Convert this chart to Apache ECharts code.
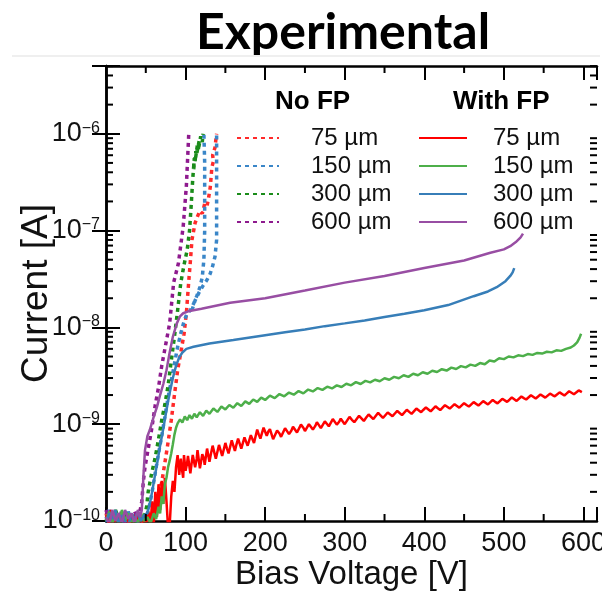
<!DOCTYPE html>
<html><head><meta charset="utf-8">
<script src="https://cdn.jsdelivr.net/npm/echarts@6/dist/echarts.min.js"></script>
<style>html,body{margin:0;padding:0;background:#fff}#c{width:602px;height:593px}</style>
</head><body><div id="c"></div>
<script>
// ---- labels ----
const titleText = 'Experimental';
const sizeLabels = ['75 µm', '150 µm', '300 µm', '600 µm'];
const groupHeaders = ['No FP', 'With FP'];
const xTickValues = [0, 100, 200, 300, 400, 500, 600];
const yTickExponents = [-10, -9, -8, -7, -6];

// ---- data: [bias voltage V, current A] ----
const noFP75 = [[0,1.2e-10],[4,0.95e-10],[8,1.1e-10],[12,0.9e-10],[16,1.2e-10],[20,1.0e-10],[24,1.15e-10],[28,0.92e-10],[32,1.1e-10],[36,1.0e-10],[40,1.2e-10],[44,0.95e-10],[48,1.1e-10],[52,1.0e-10],[56,1.2e-10],[60,1.0e-10],[63,1.4e-10],[66,1.8e-10],[70,2.5e-10],[74,4e-10],[78,6.5e-10],[82,1.1e-9],[86,2.0e-9],[90,3.6e-9],[94,5.5e-9],[98,8.5e-9],[101,1.4e-8],[104,3.0e-8],[106,4.8e-8],[108,8e-8],[112,1.2e-7],[115,1.4e-7],[118,1.6e-7],[121,1.5e-7],[124,1.9e-7],[127,1.8e-7],[129,2.2e-7],[131,2.8e-7],[132,3.5e-7],[133,4.5e-7],[135,5.2e-7],[134,6e-7],[137,7.2e-7],[138,8.6e-7],[139,1.0e-6]];
const noFP150 = [[0,1.05e-10],[4,1.3e-10],[8,1.0e-10],[12,0.9e-10],[16,1.2e-10],[20,1.05e-10],[24,0.92e-10],[28,1.25e-10],[32,1.0e-10],[36,1.15e-10],[40,0.95e-10],[44,1.2e-10],[48,1.05e-10],[52,1.2e-10],[55,1.5e-10],[58,2.0e-10],[62,3.2e-10],[66,5e-10],[70,7.5e-10],[74,1.2e-9],[78,1.9e-9],[82,2.8e-9],[86,4.2e-9],[90,6.3e-9],[94,8.7e-9],[98,1.15e-8],[102,1.4e-8],[106,1.5e-8],[110,1.75e-8],[114,2.1e-8],[118,2.6e-8],[121,3.3e-8],[123,5e-8],[124,1.0e-7],[124,2.5e-7],[124,5e-7],[123,1.0e-6]];
const noFP150b = [[108,1.5e-8],[112,1.9e-8],[117,2.3e-8],[122,2.7e-8],[127,3.1e-8],[131,3.6e-8],[134,4.3e-8],[137,5.4e-8],[139,8e-8],[139,1.5e-7],[139,3e-7],[139,6e-7],[139,1.0e-6]];
const noFP300 = [[0,1.0e-10],[4,1.2e-10],[8,0.95e-10],[12,1.3e-10],[16,1.05e-10],[20,0.9e-10],[24,1.25e-10],[28,1.0e-10],[32,1.15e-10],[36,0.95e-10],[40,1.2e-10],[44,1.0e-10],[48,1.1e-10],[51,1.4e-10],[53,2.0e-10],[57,3.0e-10],[62,4.6e-10],[66,7.0e-10],[70,1.1e-9],[74,1.6e-9],[78,2.5e-9],[82,4.5e-9],[86,8e-9],[90,1.5e-8],[94,2.9e-8],[98,4.4e-8],[102,6.3e-8],[105,1.0e-7],[107,1.8e-7],[109,3.4e-7],[111,5.6e-7],[110,4.2e-7],[113,6.6e-7],[112,5.2e-7],[115,7.8e-7],[114,6.2e-7],[117,8.4e-7],[116,6.8e-7],[119,9.4e-7],[121,8.2e-7],[122,1.0e-6]];
const noFP600 = [[0,1.3e-10],[4,1.0e-10],[8,0.9e-10],[12,1.15e-10],[16,1.0e-10],[20,1.3e-10],[24,0.95e-10],[28,1.2e-10],[32,1.0e-10],[36,1.25e-10],[40,1.05e-10],[43,1.3e-10],[45,1.6e-10],[47,2.6e-10],[49,3.6e-10],[52,5e-10],[57,8.5e-10],[62,1.6e-9],[66,2.4e-9],[70,4e-9],[74,6e-9],[80,1.1e-8],[85,2.9e-8],[91,4.6e-8],[97,1.1e-7],[101,2.9e-7],[104,1.0e-6]];

const withFP75 = [[0,1.15e-10],[3,0.95e-10],[6,1.3e-10],[9,0.9e-10],[13,1.1e-10],[17,0.92e-10],[21,1.2e-10],[25,0.95e-10],[29,1.05e-10],[33,0.9e-10],[37,1.15e-10],[41,0.95e-10],[45,1.1e-10],[49,0.9e-10],[53,1.25e-10],[56,0.95e-10],[58,1.6e-10],[60,0.9e-10],[62,2.0e-10],[64,1.1e-10],[66,2.4e-10],[68,1.3e-10],[70,2.6e-10],[72,1.5e-10],[74,2.8e-10],[76,1.6e-10],[78,0.85e-10],[80,0.9e-10],[82,1.8e-10],[84,2.6e-10],[86,2.0e-10],[88,3.6e-10],[90,4.8e-10],[92,3.0e-10],[94,4.4e-10],[95,3.6e-10],[97,2.8e-10],[98,4.8e-10],[100,3.3e-10],[102,4.0e-10],[103,4.7e-10],[106,3.1e-10],[108,4.2e-10],[109,4.8e-10],[112,3.6e-10],[114,4.4e-10],[115,5.4e-10],[118,3.5e-10],[121,4.9e-10],[123,4.4e-10],[124,3.8e-10],[127,5.6e-10],[130,4.1e-10],[132,5.0e-10],[134,6.0e-10],[138,4.4e-10],[140,5.2e-10],[142,6.1e-10],[146,4.7e-10],[150,6.4e-10],[152,5.6e-10],[154,5.0e-10],[158,6.8e-10],[162,5.3e-10],[164,6.2e-10],[166,7.1e-10],[170,5.6e-10],[174,7.3e-10],[176,6.6e-10],[178,6.0e-10],[182,7.7e-10],[186,6.4e-10],[190,8.8e-10],[192,7.8e-10],[194,7.1e-10],[198,9.2e-10],[202,7.6e-10],[204,8.4e-10],[206,8.9e-10],[210,7.0e-10],[215,8.6e-10],[218,8.0e-10],[220,7.4e-10],[225,9.1e-10],[230,7.9e-10],[233,8.6e-10],[235,9.4e-10],[240,8.2e-10],[245,9.9e-10],[248,9.2e-10],[250,8.5e-10],[255,1.0e-9],[260,8.8e-10],[263,9.6e-10],[265,1.05e-9],[270,9.1e-10],[275,1.07e-9],[278,1.0e-9],[280,9.5e-10],[285,1.13e-9],[290,9.9e-10],[293,1.06e-9],[295,1.14e-9],[300,1.0e-9],[306,1.19e-9],[309,1.11e-9],[312,1.05e-9],[318,1.22e-9],[324,1.08e-9],[327,1.17e-9],[330,1.26e-9],[336,1.13e-9],[342,1.31e-9],[345,1.23e-9],[348,1.16e-9],[354,1.32e-9],[360,1.21e-9],[363,1.29e-9],[366,1.37e-9],[372,1.24e-9],[378,1.41e-9],[381,1.34e-9],[384,1.28e-9],[390,1.45e-9],[396,1.33e-9],[399,1.41e-9],[402,1.49e-9],[408,1.36e-9],[414,1.53e-9],[417,1.46e-9],[420,1.4e-9],[426,1.57e-9],[432,1.45e-9],[435,1.53e-9],[438,1.61e-9],[444,1.48e-9],[450,1.65e-9],[453,1.58e-9],[456,1.52e-9],[462,1.69e-9],[468,1.56e-9],[471,1.64e-9],[474,1.73e-9],[480,1.6e-9],[486,1.78e-9],[489,1.7e-9],[492,1.64e-9],[498,1.83e-9],[504,1.7e-9],[507,1.79e-9],[510,1.89e-9],[516,1.74e-9],[522,1.93e-9],[525,1.86e-9],[528,1.8e-9],[534,1.99e-9],[540,1.84e-9],[543,1.93e-9],[546,2.03e-9],[552,1.88e-9],[558,2.07e-9],[561,2.0e-9],[564,1.94e-9],[570,2.13e-9],[576,1.98e-9],[579,2.08e-9],[582,2.19e-9],[588,2.04e-9],[594,2.23e-9],[598,2.14e-9]];
const withFP150 = [[0,1.0e-10],[4,1.25e-10],[8,0.95e-10],[12,1.15e-10],[16,0.9e-10],[20,1.3e-10],[24,1.0e-10],[28,1.2e-10],[32,0.92e-10],[36,1.1e-10],[40,0.95e-10],[44,1.2e-10],[48,1.0e-10],[52,1.1e-10],[56,0.95e-10],[60,1.2e-10],[63,1.05e-10],[66,1.4e-10],[68,1.2e-10],[70,1.8e-10],[72,1.5e-10],[74,2.4e-10],[76,2.8e-10],[78,3.6e-10],[80,4.2e-10],[82,5.0e-10],[84,6.2e-10],[86,7.8e-10],[88,9.2e-10],[90,1.02e-9],[93,1.12e-9],[96,1.04e-9],[99,1.2e-9],[102,1.1e-9],[105,1.24e-9],[108,1.14e-9],[111,1.28e-9],[114,1.18e-9],[118,1.33e-9],[122,1.22e-9],[126,1.38e-9],[130,1.28e-9],[135,1.45e-9],[140,1.34e-9],[145,1.52e-9],[150,1.42e-9],[155,1.58e-9],[160,1.48e-9],[165,1.65e-9],[170,1.54e-9],[175,1.72e-9],[180,1.62e-9],[185,1.8e-9],[190,1.7e-9],[195,1.88e-9],[200,1.78e-9],[206,1.97e-9],[212,1.86e-9],[218,2.05e-9],[224,1.94e-9],[230,2.12e-9],[236,2.02e-9],[242,2.2e-9],[248,2.08e-9],[254,2.28e-9],[260,2.18e-9],[266,2.36e-9],[272,2.26e-9],[278,2.44e-9],[284,2.34e-9],[290,2.52e-9],[296,2.42e-9],[302,2.62e-9],[308,2.52e-9],[314,2.72e-9],[320,2.6e-9],[326,2.8e-9],[332,2.7e-9],[338,2.88e-9],[344,2.78e-9],[350,2.98e-9],[356,2.88e-9],[362,3.08e-9],[368,2.98e-9],[374,3.2e-9],[380,3.08e-9],[386,3.32e-9],[392,3.2e-9],[398,3.44e-9],[404,3.32e-9],[410,3.57e-9],[416,3.46e-9],[422,3.7e-9],[428,3.58e-9],[434,3.84e-9],[440,3.72e-9],[446,3.98e-9],[452,3.86e-9],[458,4.12e-9],[464,4.0e-9],[470,4.28e-9],[476,4.16e-9],[482,4.55e-9],[488,4.45e-9],[494,4.8e-9],[500,4.7e-9],[506,5.0e-9],[512,4.9e-9],[518,5.15e-9],[524,5.05e-9],[530,5.3e-9],[536,5.2e-9],[542,5.45e-9],[548,5.36e-9],[554,5.6e-9],[560,5.52e-9],[566,5.8e-9],[572,5.72e-9],[578,6.0e-9],[584,6.2e-9],[588,6.5e-9],[592,7.0e-9],[595,7.8e-9],[597,8.6e-9]];
const withFP300 = [[0,0.95e-10],[4,1.2e-10],[8,1.05e-10],[12,1.3e-10],[16,0.95e-10],[20,1.15e-10],[24,1.0e-10],[28,0.9e-10],[32,1.2e-10],[36,1.05e-10],[40,1.25e-10],[44,1.0e-10],[48,1.15e-10],[52,1.2e-10],[55,1.5e-10],[58,2.0e-10],[61,2.8e-10],[64,3.8e-10],[68,6e-10],[72,9e-10],[76,1.4e-9],[80,2.1e-9],[84,3.0e-9],[88,4.0e-9],[92,4.9e-9],[96,5.5e-9],[101,6.0e-9],[110,6.3e-9],[130,6.8e-9],[160,7.4e-9],[200,8.3e-9],[225,8.9e-9],[250,9.5e-9],[275,1.03e-8],[300,1.1e-8],[325,1.18e-8],[350,1.28e-8],[375,1.38e-8],[400,1.5e-8],[430,1.7e-8],[462,2.1e-8],[480,2.35e-8],[491,2.6e-8],[502,3.0e-8],[508,3.4e-8],[511,3.7e-8],[513,4.1e-8]];
const withFP600 = [[0,1.1e-10],[4,0.92e-10],[8,1.3e-10],[12,1.0e-10],[16,1.2e-10],[20,0.95e-10],[24,1.3e-10],[28,1.05e-10],[32,1.2e-10],[36,0.95e-10],[40,1.3e-10],[43,1.1e-10],[45,1.3e-10],[47,2.9e-10],[49,5.4e-10],[52,7.5e-10],[55,8.7e-10],[60,1.2e-9],[64,1.5e-9],[68,2.0e-9],[72,2.6e-9],[76,3.6e-9],[80,5.5e-9],[84,8e-9],[89,1.1e-8],[93,1.3e-8],[97,1.4e-8],[105,1.48e-8],[120,1.56e-8],[156,1.8e-8],[200,2.0e-8],[250,2.4e-8],[300,2.9e-8],[350,3.4e-8],[400,4.1e-8],[450,4.9e-8],[483,5.9e-8],[500,6.4e-8],[508,6.9e-8],[515,7.6e-8],[521,8.5e-8],[524,9.3e-8]];

// ---- styling / layout ----
const X_MIN = 0, X_MAX = 617, Y_MIN = -10, Y_MAX = -5.3;
const FONT = 'Liberation Sans';
const dottedColors = ['#ff2a2a', '#3a86c8', '#1a8c1a', '#8e1a8e'];
const solidColors = ['#ff0000', '#4daf4a', '#377eb8', '#984ea3'];

const toLog = arr => arr.map(p => [p[0], Math.log10(p[1])]);
const noFPSets = [noFP75, noFP150, noFP300, noFP600];
const withFPSets = [withFP75, withFP150, withFP300, withFP600];
const noFPNames = sizeLabels.map(s => 'No FP ' + s);
const withFPNames = sizeLabels.map(s => 'With FP ' + s);

const series = [];
noFPSets.forEach((d, i) => {
  series.push({ name: noFPNames[i], type: 'line', data: toLog(d), showSymbol: false, symbol: 'none',
    lineStyle: { color: dottedColors[i], width: 3.5, type: [4, 4] }, itemStyle: { color: dottedColors[i] }, z: 2 });
});
series.push({ name: 'No FP 150 µm (b)', type: 'line', data: toLog(noFP150b), showSymbol: false, symbol: 'none',
  lineStyle: { color: dottedColors[1], width: 3.5, type: [4, 4] }, itemStyle: { color: dottedColors[1] }, z: 2 });
withFPSets.forEach((d, i) => {
  series.push({ name: withFPNames[i], type: 'line', data: toLog(d), showSymbol: false, symbol: 'none',
    lineStyle: { color: solidColors[i], width: 2.5 }, itemStyle: { color: solidColors[i] }, z: 3 });
});

// minor ticks (axis decoration): log minors on y, 50 V minors on x
const minorTicks = [];
for (let n = Y_MIN; n < Math.ceil(Y_MAX); n++) {
  for (let k = 2; k <= 9; k++) { const v = n + Math.log10(k); if (v <= Y_MAX) minorTicks.push([0, v]); }
}
for (let v = 50; v < 600; v += 100) minorTicks.push([1, v]);
series.push({
  type: 'custom', silent: true, clip: false, z: 5, data: minorTicks,
  renderItem: function (params, api) {
    const cs = params.coordSys; const L = 7; const kind = api.value(0); const v = api.value(1);
    let segs;
    if (kind === 0) {
      const y = api.coord([X_MIN, v])[1];
      segs = [[cs.x, y, cs.x + L, y], [cs.x + cs.width - L, y, cs.x + cs.width, y]];
    } else {
      const x = api.coord([v, Y_MIN])[0];
      segs = [[x, cs.y + cs.height, x, cs.y + cs.height - L], [x, cs.y, x, cs.y + L]];
    }
    return { type: 'group', children: segs.map(s => ({ type: 'line', shape: { x1: s[0], y1: s[1], x2: s[2], y2: s[3] }, style: { stroke: '#000', lineWidth: 2 } })) };
  }
});

const axisLine = { show: true, lineStyle: { color: '#000', width: 2.5 } };
const majorTick = { show: true, inside: true, length: 14, lineStyle: { color: '#000', width: 2 } };
const legendIconStyle = { color: 'transparent', borderWidth: 0, opacity: 0 };

const chart = echarts.init(document.getElementById('c'));
chart.setOption({
  animation: false,
  backgroundColor: '#fff',
  grid: { left: 106, right: 5, top: 66, bottom: 72, containLabel: false, outerBoundsMode: 'none' },
  xAxis: [
    { type: 'value', position: 'bottom', min: X_MIN, max: X_MAX, interval: 100, axisLine, axisTick: majorTick, splitLine: { show: false },
      axisLabel: { fontSize: 27, color: '#111', fontFamily: FONT, margin: 9,
        formatter: v => xTickValues.includes(v) ? String(v) : '' },
      name: 'Bias Voltage [V]', nameLocation: 'middle', nameGap: 37, nameMoveOverlap: false,
      nameTextStyle: { fontSize: 33, color: '#111', fontFamily: FONT } },
    { type: 'value', position: 'top', min: X_MIN, max: X_MAX, interval: 100, axisLine, axisTick: majorTick,
      axisLabel: { show: false }, splitLine: { show: false } }
  ],
  yAxis: [
    { type: 'value', position: 'left', min: Y_MIN, max: Y_MAX, interval: 1, axisLine, axisTick: majorTick, splitLine: { show: false },
      axisLabel: { color: '#111', fontFamily: FONT, margin: 6,
        formatter: v => yTickExponents.includes(v) ? '{b|10}{s|−' + (-v) + '}' : '',
        rich: { b: { fontSize: 27, fontFamily: FONT, color: '#111' }, s: { fontSize: 16, fontFamily: FONT, color: '#111', verticalAlign: 'top' } } },
      name: 'Current [A]', nameLocation: 'middle', nameGap: 51, nameMoveOverlap: false,
      nameTextStyle: { fontSize: 37, color: '#111', fontFamily: FONT } },
    { type: 'value', position: 'right', min: Y_MIN, max: Y_MAX, interval: 1, axisLine, axisTick: majorTick,
      axisLabel: { show: false }, splitLine: { show: false } }
  ],
  legend: [
    { data: noFPNames, left: 236, top: 126, padding: 0, orient: 'vertical', itemWidth: 42, itemHeight: 14, itemGap: 4, selectedMode: false,
      itemStyle: legendIconStyle,
      formatter: n => '{t|' + n.replace('No FP ', '') + '}',
      textStyle: { fontSize: 24, lineHeight: 24, color: '#111', fontFamily: FONT,
        rich: { t: { fontSize: 24, lineHeight: 24, fontFamily: FONT, color: '#111', padding: [0, 0, 0, 27] } } } },
    { data: withFPNames, left: 418, top: 126, padding: 0, orient: 'vertical', itemWidth: 48, itemHeight: 14, itemGap: 4, selectedMode: false,
      itemStyle: legendIconStyle,
      formatter: n => '{t|' + n.replace('With FP ', '') + '}',
      textStyle: { fontSize: 24, lineHeight: 24, color: '#111', fontFamily: FONT,
        rich: { t: { fontSize: 24, lineHeight: 24, fontFamily: FONT, color: '#111', padding: [0, 0, 0, 21] } } } }
  ],
  graphic: [
    { type: 'text', x: 343, y: 33, style: { text: titleText, fontSize: 50, fontWeight: 'bold', fontFamily: 'Lato', fill: '#000', align: 'center', verticalAlign: 'middle', textAlign: 'center', textVerticalAlign: 'middle' } },
    { type: 'line', shape: { x1: 12, y1: 56, x2: 600, y2: 56 }, style: { stroke: '#efefef', lineWidth: 2 } },
    { type: 'text', x: 275, y: 102, style: { text: groupHeaders[0], fontSize: 26, fontWeight: 'bold', fontFamily: FONT, fill: '#000', verticalAlign: 'middle', textVerticalAlign: 'middle' } },
    { type: 'text', x: 453, y: 102, style: { text: groupHeaders[1], fontSize: 26, fontWeight: 'bold', fontFamily: FONT, fill: '#000', verticalAlign: 'middle', textVerticalAlign: 'middle' } }
  ],
  series: series
});
</script></body></html>
